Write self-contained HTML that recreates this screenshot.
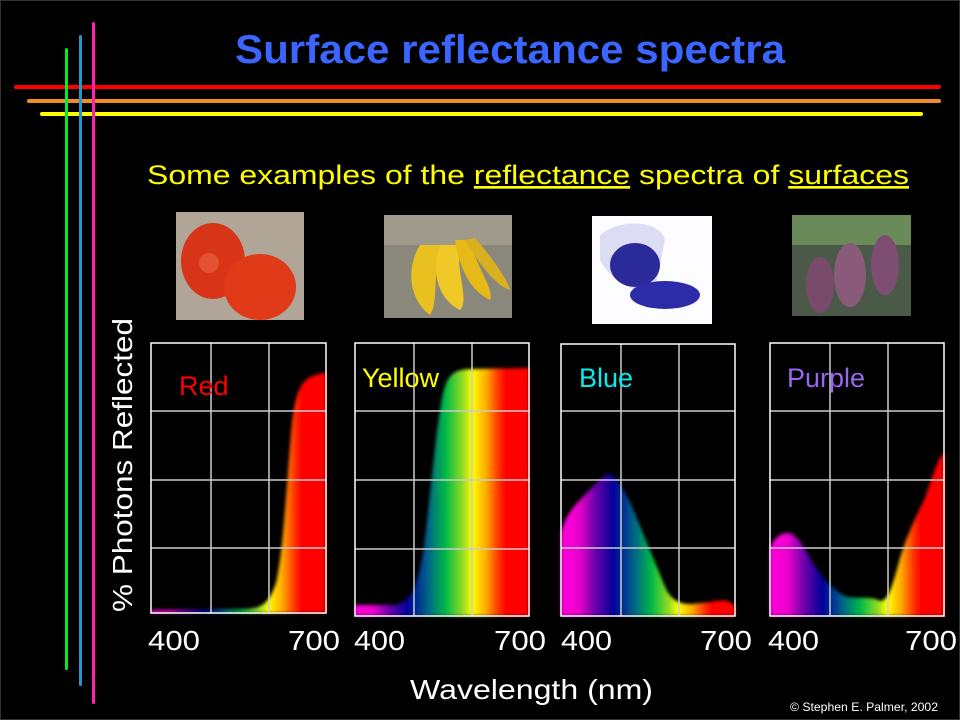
<!DOCTYPE html>
<html><head><meta charset="utf-8"><style>
html,body{margin:0;padding:0;background:#000;width:960px;height:720px;overflow:hidden}
svg{display:block}
text{font-family:"Liberation Sans",Arial,sans-serif}
</style></head><body>
<svg width="960" height="720" viewBox="0 0 960 720" xmlns="http://www.w3.org/2000/svg">
<defs>
<linearGradient id="sp" gradientUnits="userSpaceOnUse" x1="0" y1="0" x2="175" y2="0">
<stop offset="0" stop-color="#ff00dd"/>
<stop offset="0.1" stop-color="#ee00cc"/>
<stop offset="0.2" stop-color="#6600aa"/>
<stop offset="0.3" stop-color="#000099"/>
<stop offset="0.42" stop-color="#006688"/>
<stop offset="0.52" stop-color="#00bb44"/>
<stop offset="0.62" stop-color="#99dd22"/>
<stop offset="0.67" stop-color="#ffff00"/>
<stop offset="0.75" stop-color="#ffaa00"/>
<stop offset="0.82" stop-color="#ff3300"/>
<stop offset="0.86" stop-color="#ff0000"/>
<stop offset="1" stop-color="#ff0000"/>
</linearGradient>
<filter id="bl" x="-5%" y="-5%" width="110%" height="110%"><feGaussianBlur stdDeviation="1.6"/></filter>
</defs>
<rect x="0.5" y="0.5" width="959" height="719" fill="#000" stroke="#333"/>

<rect x="14" y="85" width="927" height="4" rx="2" fill="#ff0000"/>
<rect x="27" y="99" width="914" height="4" rx="2" fill="#f08c28"/>
<rect x="40" y="112" width="883" height="4" rx="2" fill="#ffff00"/>
<rect x="65" y="48" width="3" height="622" rx="1.5" fill="#00ee22"/>
<rect x="79" y="35" width="3" height="651" rx="1.5" fill="#2299cc"/>
<rect x="92" y="22" width="3" height="682" rx="1.5" fill="#ff22aa"/>

<text x="510" y="63" font-size="40" font-weight="bold" fill="#3a66ff" text-anchor="middle" textLength="550" lengthAdjust="spacingAndGlyphs">Surface reflectance spectra</text>
<text x="147" y="184" font-size="27" fill="#ffff00" textLength="762" lengthAdjust="spacingAndGlyphs">Some examples of the <tspan text-decoration="underline">reflectance</tspan> spectra of <tspan text-decoration="underline">surfaces</tspan></text>

<rect x="176" y="212" width="128" height="108" fill="#b0a597"/>
<ellipse cx="213" cy="261" rx="32" ry="38" fill="#d83418"/>
<ellipse cx="260" cy="287" rx="36" ry="33" fill="#e03a18"/>
<circle cx="209" cy="263" r="10" fill="#f07050" opacity="0.5"/>
<rect x="384" y="215" width="128" height="103" fill="#8a887a"/>
<rect x="384" y="215" width="128" height="30" fill="#a09a8c"/>
<path d="M420,245 C405,270 410,300 430,315 C440,300 430,270 445,245 Z" fill="#e8c020"/>
<path d="M440,245 C430,275 440,300 460,310 C470,300 455,270 460,245 Z" fill="#f0c828"/>
<path d="M455,240 C460,270 470,290 490,300 C495,290 475,265 470,240 Z" fill="#e6b818"/>
<path d="M465,240 C480,265 495,285 510,290 C508,280 490,255 475,238 Z" fill="#d8b020"/>
<rect x="592" y="216" width="120" height="108" fill="#fdfdff"/>
<path d="M600,235 C620,218 660,220 665,240 L655,290 C635,295 610,280 600,260 Z" fill="#dcdcf4"/>
<ellipse cx="635" cy="265" rx="25" ry="22" fill="#2a2a9a"/>
<ellipse cx="665" cy="295" rx="35" ry="14" fill="#2c2ca8"/>
<rect x="792" y="215" width="119" height="101" fill="#4b5a48"/>
<rect x="792" y="215" width="119" height="30" fill="#6a8a5a"/>
<ellipse cx="820" cy="285" rx="14" ry="28" fill="#7a4a6a"/>
<ellipse cx="850" cy="275" rx="16" ry="32" fill="#8a5a7a"/>
<ellipse cx="885" cy="265" rx="14" ry="30" fill="#7e4e72"/>

<g transform="translate(151,343)">
<path filter="url(#bl)" fill="url(#sp)" d="M0,270 L0,267 L95,266 C112,265 118,260 125,240 C132,210 135,150 140,90 C144,45 150,32 175,30 L175,270 Z"/>
<g stroke="#cccccc" stroke-width="1.5"><line x1="60" y1="0" x2="60" y2="270"/><line x1="118" y1="0" x2="118" y2="270"/><line x1="0" y1="68" x2="175" y2="68"/><line x1="0" y1="137" x2="175" y2="137"/><line x1="0" y1="205" x2="175" y2="205"/></g>
<rect x="0" y="0" width="175" height="270" fill="none" stroke="#fff" stroke-width="1.5"/>
<text x="28" y="52" font-size="27" fill="#ff0000">Red</text>
</g>
<g transform="translate(355,343)">
<path filter="url(#bl)" fill="url(#sp)" d="M0,273 L0,262 L40,262 C55,260 62,245 68,210 C75,160 80,90 88,50 C93,30 100,27 115,26 L174,25 L174,273 Z"/>
<g stroke="#cccccc" stroke-width="1.5"><line x1="59" y1="0" x2="59" y2="273"/><line x1="117" y1="0" x2="117" y2="273"/><line x1="0" y1="68" x2="174" y2="68"/><line x1="0" y1="137" x2="174" y2="137"/><line x1="0" y1="206" x2="174" y2="206"/></g>
<rect x="0" y="0" width="174" height="273" fill="none" stroke="#fff" stroke-width="1.5"/>
<text x="7" y="44" font-size="27" fill="#ffff00">Yellow</text>
</g>
<g transform="translate(561,344)">
<path filter="url(#bl)" fill="url(#sp)" d="M0,272 L0,190 C3,175 10,165 20,155 C30,145 40,132 48,130 C55,130 62,145 70,160 C80,185 95,220 105,245 C112,258 120,260 130,260 L150,258 C162,255 168,256 174,262 L174,272 Z"/>
<g stroke="#cccccc" stroke-width="1.5"><line x1="60" y1="0" x2="60" y2="272"/><line x1="118" y1="0" x2="118" y2="272"/><line x1="0" y1="67" x2="174" y2="67"/><line x1="0" y1="136" x2="174" y2="136"/><line x1="0" y1="204" x2="174" y2="204"/></g>
<rect x="0" y="0" width="174" height="272" fill="none" stroke="#fff" stroke-width="1.5"/>
<text x="18" y="43" font-size="27" fill="#00eeee">Blue</text>
</g>
<g transform="translate(770,343)">
<path filter="url(#bl)" fill="url(#sp)" d="M0,273 L0,205 C4,195 10,190 18,190 C26,191 32,200 40,215 C50,232 60,245 75,253 C85,257 100,252 110,258 C118,258 122,245 130,215 C136,195 145,175 155,155 C162,135 168,115 174,110 L174,273 Z"/>
<g stroke="#cccccc" stroke-width="1.5"><line x1="60" y1="0" x2="60" y2="273"/><line x1="118" y1="0" x2="118" y2="273"/><line x1="0" y1="68" x2="174" y2="68"/><line x1="0" y1="137" x2="174" y2="137"/><line x1="0" y1="205" x2="174" y2="205"/></g>
<rect x="0" y="0" width="174" height="273" fill="none" stroke="#fff" stroke-width="1.5"/>
<text x="17" y="44" font-size="27" fill="#9966ee">Purple</text>
</g>

<g font-size="28" fill="#fff">
<text x="148" y="650" textLength="52" lengthAdjust="spacingAndGlyphs">400</text>
<text x="288" y="650" textLength="52" lengthAdjust="spacingAndGlyphs">700</text>
<text x="354" y="650" textLength="51" lengthAdjust="spacingAndGlyphs">400</text>
<text x="494" y="650" textLength="52" lengthAdjust="spacingAndGlyphs">700</text>
<text x="561" y="650" textLength="51" lengthAdjust="spacingAndGlyphs">400</text>
<text x="700" y="650" textLength="52" lengthAdjust="spacingAndGlyphs">700</text>
<text x="768" y="650" textLength="51" lengthAdjust="spacingAndGlyphs">400</text>
<text x="905" y="650" textLength="52" lengthAdjust="spacingAndGlyphs">700</text>
</g>
<text x="410" y="699" font-size="28" fill="#fff" textLength="243" lengthAdjust="spacingAndGlyphs">Wavelength (nm)</text>
<text transform="translate(132,612) rotate(-90)" font-size="28" fill="#fff" textLength="294" lengthAdjust="spacingAndGlyphs">% Photons Reflected</text>
<text x="790" y="711" font-size="12" fill="#fff" textLength="148" lengthAdjust="spacingAndGlyphs">© Stephen E. Palmer, 2002</text>
</svg>
</body></html>
